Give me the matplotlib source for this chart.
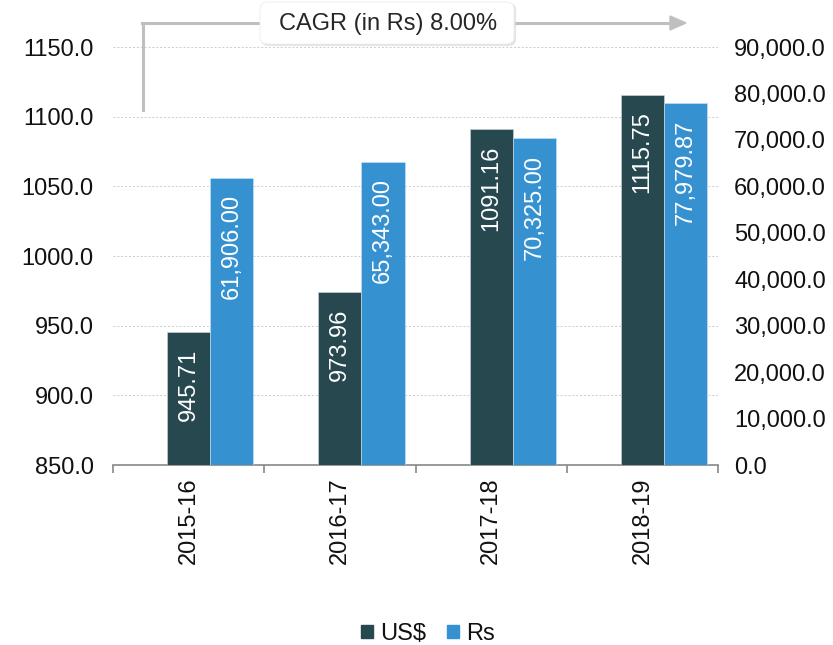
import matplotlib
matplotlib.use("Agg")
import matplotlib.pyplot as plt
from matplotlib.patches import FancyBboxPatch
from matplotlib.lines import Line2D
import numpy as np

plt.rcParams['font.family'] = ['Liberation Sans', 'DejaVu Sans']

categories = ["2015-16", "2016-17", "2017-18", "2018-19"]
usd = [945.71, 973.96, 1091.16, 1115.75]
rs = [61906.00, 65343.00, 70325.00, 77979.87]
usd_labels = ["945.71", "973.96", "1091.16", "1115.75"]
rs_labels = ["61,906.00", "65,343.00", "70,325.00", "77,979.87"]
left_ticks = [850, 900, 950, 1000, 1050, 1100, 1150]
right_ticks = [0, 10000, 20000, 30000, 40000, 50000, 60000, 70000, 80000, 90000]
cagr_text = "CAGR (in Rs) 8.00%"

c_usd = "#284850"
c_rs = "#3691d1"
FS = 17

fig = plt.figure(figsize=(8.33, 6.45), dpi=100)
ax = fig.add_axes([0.1357, 0.279, 0.7263, 0.648])
ax2 = ax.twinx()

x = np.arange(len(categories))
w = 0.285
ax.bar(x, [v - 850 for v in usd], bottom=850, width=w, color=c_usd, zorder=3,
       edgecolor="#cfd8db", linewidth=0.4)
ax2.bar(x + w, rs, width=w, color=c_rs, zorder=3, edgecolor="#cfe3f3", linewidth=0.4)

ax.set_xlim(-0.5, 3.5)
ax.set_ylim(850, 1150)
ax2.set_ylim(0, 90000)
ax.set_yticks(left_ticks)
ax.set_yticklabels([f"{t:.1f}" for t in left_ticks], fontsize=FS, color="#111111")
ax2.set_yticks(right_ticks)
ax2.set_yticklabels([f"{t:,.1f}" for t in right_ticks], fontsize=FS, color="#111111")
ax.tick_params(axis='y', length=0, pad=14)
ax2.tick_params(axis='y', length=0, pad=11.5)

ax.set_xticks(x)
ax.set_xticklabels(categories, rotation=90, fontsize=FS, color="#111111")
ax.set_xticks(np.arange(-0.5, 4.0, 1.0), minor=True)
ax.tick_params(axis='x', which='major', length=0, pad=9)
ax.tick_params(axis='x', which='minor', length=6, color="#888888", width=1.2)

ax.yaxis.grid(True, linestyle=(0, (2, 2)), color="#cccccc", linewidth=0.7, zorder=0)
ax.set_axisbelow(True)

for a in (ax, ax2):
    for s in ("top", "right", "left"):
        a.spines[s].set_visible(False)
ax2.spines["bottom"].set_visible(False)
ax.spines["bottom"].set_color("#888888")
ax.spines["bottom"].set_linewidth(1.2)

# bar labels (inside end, rotated)
for i in range(len(categories)):
    ax.annotate(usd_labels[i], xy=(x[i], usd[i]), xytext=(0, -12), textcoords="offset points",
                rotation=90, ha="center", va="top", color="white", fontsize=FS, zorder=5)
    ax2.annotate(rs_labels[i], xy=(x[i] + w, rs[i]), xytext=(0, -12), textcoords="offset points",
                 rotation=90, ha="center", va="top", color="white", fontsize=FS, zorder=5)

# CAGR arrow
W, H = 833, 645
def fx(px): return px / W
def fy(py): return 1 - py / H
arrow_col = "#bfbfbf"
fig.add_artist(Line2D([fx(143), fx(143)], [fy(110), fy(23)], color=arrow_col, lw=2.2, zorder=3))
fig.add_artist(Line2D([fx(142), fx(672)], [fy(23), fy(23)], color=arrow_col, lw=2.2, zorder=3))
fig.add_artist(plt.Polygon([[fx(670), fy(16)], [fx(686), fy(23)], [fx(670), fy(30)]],
                           closed=True, color=arrow_col, transform=fig.transFigure, zorder=3))

# box with shadow
shadow = FancyBboxPatch((fx(261), fy(46)), fx(255), fy(3) - fy(46),
                        boxstyle="round,pad=0,rounding_size=0.01",
                        transform=fig.transFigure, facecolor="#d9d9d9", edgecolor="none",
                        alpha=0.7, zorder=5)
box = FancyBboxPatch((fx(260), fy(44)), fx(254), fy(2) - fy(44),
                     boxstyle="round,pad=0,rounding_size=0.01",
                     transform=fig.transFigure, facecolor="white", edgecolor="#ececec",
                     linewidth=0.6, zorder=6)
fig.add_artist(shadow)
fig.add_artist(box)
fig.text(fx(388), fy(24), cagr_text, ha="center", va="center", fontsize=FS, color="#262626",
         zorder=7)

# legend
handles = [plt.Rectangle((0, 0), 1, 1, color=c_usd), plt.Rectangle((0, 0), 1, 1, color=c_rs)]
fig.legend(handles, ["US$", "Rs"], loc="center", bbox_to_anchor=(fx(428), fy(634)), ncol=2,
           frameon=False, fontsize=FS, handlelength=0.5, handleheight=0.5,
           handletextpad=0.3, columnspacing=0.9, labelcolor="#111111")

fig.savefig("out.png", dpi=100)
